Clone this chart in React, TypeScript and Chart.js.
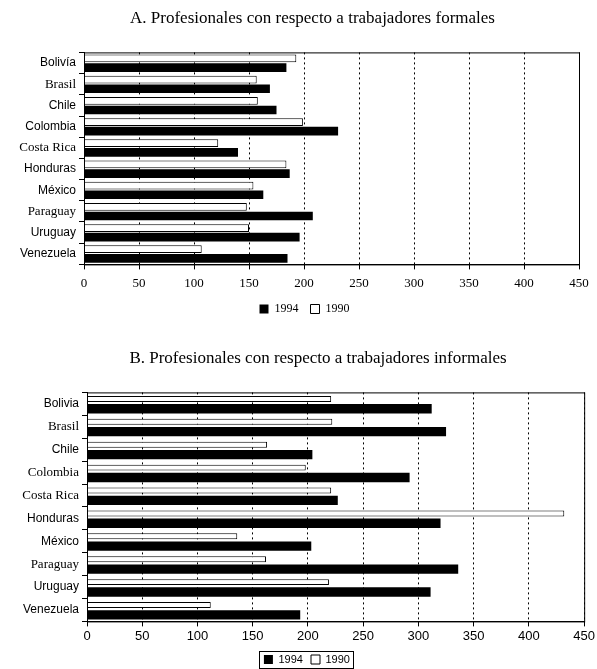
import React, { useEffect, useRef } from "react";
import { Chart, registerables } from "chart.js";
Chart.register(...registerables);

const categoriesA = ["Bolivía", "Brasil", "Chile", "Colombia", "Costa Rica", "Honduras", "México", "Paraguay", "Uruguay", "Venezuela"];
const categoriesB = ["Bolivia", "Brasil", "Chile", "Colombia", "Costa Rica", "Honduras", "México", "Paraguay", "Uruguay", "Venezuela"];
const formal1990 = [193, 157, 158, 199, 122, 184, 154, 148, 150, 107];
const formal1994 = [184, 169, 175, 231, 140, 187, 163, 208, 196, 185];
const informal1990 = [221, 222, 163, 198, 221, 432, 136, 162, 219, 112];
const informal1994 = [312, 325, 204, 292, 227, 320, 203, 336, 311, 193];
const seriesLabels = ["1990", "1994"];
const xMax = 450;
const xStep = 50;
const titleA = "A. Profesionales con respecto a trabajadores formales";
const titleB = "B. Profesionales con respecto a trabajadores informales";
const serifLabelsA = ["Brasil", "Costa Rica", "Paraguay"];
const serifLabelsB = ["Brasil", "Colombia", "Costa Rica", "Paraguay"];

const SERIF = "'Liberation Serif', 'Times New Roman', serif";
const SANS = "'Liberation Sans', Arial, sans-serif";

const framePlugin = {
  id: "frame",
  afterDatasetsDraw(chart: any) {
    const { ctx, chartArea } = chart;
    ctx.save();
    ctx.strokeStyle = "#000";
    ctx.lineWidth = 1;
    ctx.strokeRect(chartArea.left + 0.5, chartArea.top + 0.5, chartArea.right - chartArea.left, chartArea.bottom - chartArea.top);
    ctx.restore();
  },
};

const shiftPlugin = {
  id: "shiftBlocks",
  afterLayout(chart: any, _args: any, opts: any) {
    const tb = chart.titleBlock;
    if (tb && opts.title) {
      tb.left += opts.title;
      tb.right += opts.title;
    }
    const lg = chart.legend;
    if (lg && (opts.legend || opts.legendY)) {
      const dx = opts.legend || 0;
      const dy = opts.legendY || 0;
      lg.left += dx;
      lg.right += dx;
      lg.top += dy;
      lg.bottom += dy;
    }
  },
};

const legendBoxPlugin = {
  id: "legendBox",
  afterDraw(chart: any, _args: any, opts: any) {
    if (!opts || !opts.enabled) return;
    const boxes = chart.legend && chart.legend.legendHitBoxes;
    if (!boxes || !boxes.length) return;
    let l = Infinity, r = -Infinity, t = Infinity, b = -Infinity;
    boxes.forEach((h: any) => {
      l = Math.min(l, h.left);
      r = Math.max(r, h.left + h.width);
      t = Math.min(t, h.top);
      b = Math.max(b, h.top + h.height);
    });
    const ctx = chart.ctx;
    ctx.save();
    ctx.strokeStyle = "#000";
    ctx.lineWidth = 1;
    ctx.strokeRect(Math.round(l - 5) + 0.5, Math.round(t - 3) + 0.5, Math.round(r - l + 2), Math.round(b - t + 6));
    ctx.restore();
  },
};

function makeConfig(opts: {
  categories: string[];
  v1990: number[];
  v1994: number[];
  title: string;
  serifLabels: string[];
  tickFont: any;
  tickPad: number;
  legendFont: any;
  legendPad: number;
  padding: any;
  yWidth: number;
  titlePad: any;
  whitePct: number;
  blackPct: number;
  legendBox: boolean;
  shiftTitle: number;
  shiftLegend: number;
  shiftLegendY: number;
}) {
  return {
    type: "bar",
    data: {
      labels: opts.categories,
      datasets: [
        {
          label: seriesLabels[0],
          data: opts.v1990,
          backgroundColor: "#fff",
          borderColor: "#000",
          borderWidth: 1,
          categoryPercentage: 0.86,
          barPercentage: opts.whitePct,
        },
        {
          label: seriesLabels[1],
          data: opts.v1994,
          backgroundColor: "#000",
          borderColor: "#000",
          borderWidth: 0,
          categoryPercentage: 0.86,
          barPercentage: opts.blackPct,
        },
      ],
    },
    options: {
      indexAxis: "y",
      responsive: false,
      animation: false,
      devicePixelRatio: 1,
      layout: { padding: opts.padding },
      scales: {
        x: {
          min: 0,
          max: xMax,
          ticks: { stepSize: xStep, color: "#000", font: opts.tickFont, padding: opts.tickPad },
          grid: { color: "#000", lineWidth: 1, tickLength: 5, tickBorderDash: [] },
          border: { display: true, color: "#000", width: 1, dash: [2, 3] },
        },
        y: {
          afterFit(scale: any) {
            scale.width = opts.yWidth;
          },
          ticks: {
            color: "#000",
            padding: 3,
            font: (ctx: any) =>
              opts.serifLabels.includes(opts.categories[ctx.index])
                ? { family: SERIF, size: 13 }
                : { family: SANS, size: 12 },
          },
          grid: { display: true, drawOnChartArea: false, offset: true, color: "#000", tickLength: 5 },
          border: { display: true, color: "#000", width: 1 },
        },
      },
      plugins: {
        title: {
          display: true,
          text: opts.title,
          color: "#000",
          font: { family: SERIF, size: 17, weight: "normal" },
          padding: opts.titlePad,
        },
        legend: {
          display: true,
          position: "bottom",
          reverse: true,
          labels: {
            color: "#000",
            font: opts.legendFont,
            boxWidth: 9,
            boxHeight: 9,
            padding: opts.legendPad,
            generateLabels(chart: any) {
              const items = Chart.defaults.plugins.legend.labels.generateLabels(chart);
              return items.map((it: any) => ({ ...it, text: it.text + "  " }));
            },
          },
        },
        tooltip: { enabled: false },
        legendBox: { enabled: opts.legendBox },
        shiftBlocks: { title: opts.shiftTitle, legend: opts.shiftLegend, legendY: opts.shiftLegendY },
      },
    },
    plugins: [framePlugin, shiftPlugin, legendBoxPlugin],
  } as any;
}

export default function App() {
  const refA = useRef<HTMLCanvasElement>(null);
  const refB = useRef<HTMLCanvasElement>(null);

  useEffect(() => {
    const chartA = new Chart(
      refA.current!,
      makeConfig({
        categories: categoriesA,
        v1990: formal1990,
        v1994: formal1994,
        title: titleA,
        serifLabels: serifLabelsA,
        tickFont: { family: SERIF, size: 13 },
        tickPad: 6,
        legendFont: { family: SERIF, size: 12 },
        legendPad: 6,
        padding: { left: 10, right: 18, top: 0, bottom: 5 },
        yWidth: 74,
        titlePad: { top: 8, bottom: 24 },
        whitePct: 0.85,
        blackPct: 0.95,
        legendBox: false,
        shiftTitle: 18,
        shiftLegend: 13,
        shiftLegendY: 0,
      })
    );
    const chartB = new Chart(
      refB.current!,
      makeConfig({
        categories: categoriesB,
        v1990: informal1990,
        v1994: informal1994,
        title: titleB,
        serifLabels: serifLabelsB,
        tickFont: { family: SANS, size: 13 },
        tickPad: 2,
        legendFont: { family: SANS, size: 11 },
        legendPad: 2,
        padding: { left: 10, right: 11, top: 0, bottom: 0 },
        yWidth: 77,
        titlePad: { top: 18, bottom: 24 },
        whitePct: 0.6,
        blackPct: 0.95,
        legendBox: true,
        shiftTitle: 20,
        shiftLegend: 12,
        shiftLegendY: 6,
      })
    );
    return () => {
      chartA.destroy();
      chartB.destroy();
    };
  }, []);

  return (
    <div style={{ position: "absolute", left: 0, top: 0, width: 597, height: 669, background: "#fff" }}>
      <canvas ref={refA} width={597} height={330} style={{ position: "absolute", left: 0, top: 0, width: 597, height: 330 }} />
      <canvas ref={refB} width={597} height={339} style={{ position: "absolute", left: 0, top: 330, width: 597, height: 339 }} />
    </div>
  );
}
